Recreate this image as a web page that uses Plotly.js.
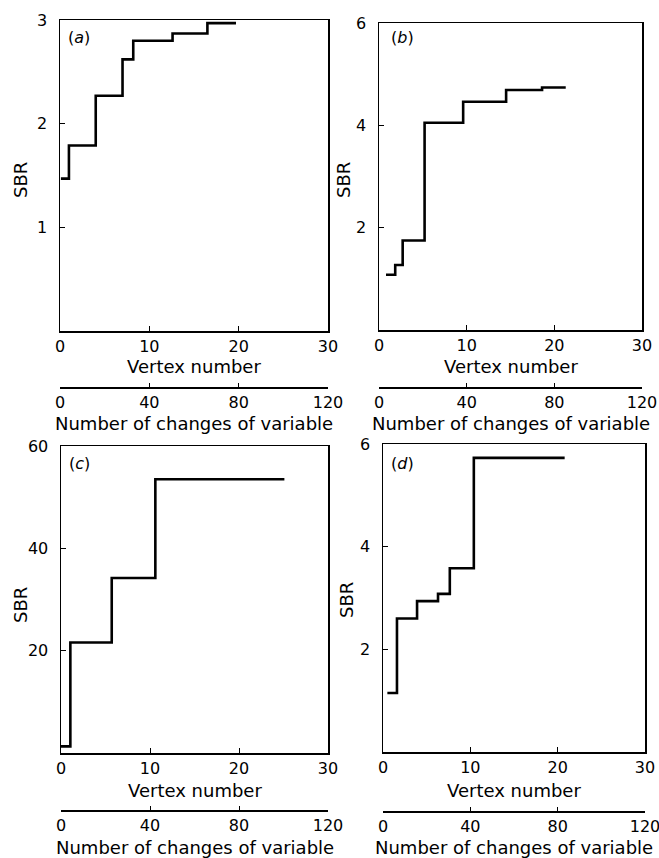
<!DOCTYPE html>
<html>
<head>
<meta charset="utf-8">
<script src="https://cdn.plot.ly/plotly-3.0.1.min.js"></script>
<style>html,body{margin:0;padding:0;background:#fff;}#chart{width:659px;height:858px;}</style>
</head>
<body>
<div id="chart"></div>
<script>
// ---- data ----
const panelLabels = ['a', 'b', 'c', 'd'];

const vertexA = [0.1, 1, 4, 7, 8.2, 12.6, 16.5, 19.7];
const sbrA    = [1.47, 1.79, 2.27, 2.62, 2.80, 2.87, 2.97, 2.97];

const vertexB = [0.8, 1.85, 2.7, 5.2, 9.6, 14.5, 18.6, 21.3];
const sbrB    = [1.08, 1.27, 1.75, 4.05, 4.46, 4.69, 4.74, 4.74];

const vertexC = [0, 1.05, 5.7, 10.6, 25.1];
const sbrC    = [1.3, 21.6, 34.2, 53.5, 53.5];

const vertexD = [0.5, 1.6, 3.9, 6.3, 7.65, 10.4, 20.8];
const sbrD    = [1.15, 2.6, 2.94, 3.08, 3.58, 5.73, 5.73];

const vertexTicks  = [0, 10, 20, 30];
const changesTicks = [0, 40, 80, 120];
const yTicksA = [1, 2, 3];
const yTicksB = [2, 4, 6];
const yTicksC = [20, 40, 60];
const yTicksD = [2, 4, 6];
const yMaxes  = [3, 6, 60, 6];

// ---- layout geometry ----
const W = 659, H = 858;
const FONT = 'DejaVu Sans, Arial, sans-serif';
const px = v => v / W;
const py = v => 1 - v / H;

const boxes = [
  {x0: 60,  x1: 328, y0: 20,  y1: 331, sec: 387, vt: 366, ct: 423, sx: 20,  sy: 180, lx: 66,  ly: 37},
  {x0: 379, x1: 642, y0: 23,  y1: 330, sec: 387, vt: 366, ct: 423, sx: 343, sy: 180, lx: 389, ly: 37},
  {x0: 61,  x1: 328, y0: 446, y1: 753, sec: 810, vt: 790, ct: 847, sx: 20,  sy: 605, lx: 67,  ly: 463},
  {x0: 383, x1: 645, y0: 444, y1: 752, sec: 811, vt: 790, ct: 847, sx: 346, sy: 600, lx: 389, ly: 463}
];

const xs = [vertexA, vertexB, vertexC, vertexD];
const ys = [sbrA, sbrB, sbrC, sbrD];
const yt = [yTicksA, yTicksB, yTicksC, yTicksD];

const data = [];
const layout = {
  width: W, height: H,
  margin: {l: 0, r: 0, t: 0, b: 0},
  paper_bgcolor: '#fff', plot_bgcolor: '#fff',
  showlegend: false,
  font: {family: FONT, size: 16, color: '#000'},
  annotations: []
};

for (let i = 0; i < 4; i++) {
  const n = i + 1;
  const xa = n === 1 ? 'x' : 'x' + n;
  const ya = n === 1 ? 'y' : 'y' + n;
  const b = boxes[i];
  data.push({
    x: xs[i], y: ys[i], xaxis: xa, yaxis: ya,
    type: 'scatter', mode: 'lines',
    line: {shape: 'hv', color: '#000', width: 2.6},
    hoverinfo: 'skip'
  });
  // empty trace to bind the secondary axis
  data.push({x: [], y: [], xaxis: 'x' + (n + 4), yaxis: ya, type: 'scatter', mode: 'lines', hoverinfo: 'skip'});

  layout['xaxis' + (n === 1 ? '' : n)] = {
    domain: [px(b.x0), px(b.x1)], anchor: ya,
    range: [0, 30], tickvals: vertexTicks,
    showline: true, mirror: true, linecolor: '#000', linewidth: 1.5,
    ticks: 'inside', ticklen: 5, tickcolor: '#000',
    showgrid: false, zeroline: false, ticklabeloverflow: 'allow',
    tickfont: {family: FONT, size: 16, color: '#000'}
  };
  layout['yaxis' + (n === 1 ? '' : n)] = {
    domain: [py(b.y1), py(b.y0)], anchor: xa,
    range: [0, yMaxes[i]], tickvals: yt[i],
    showline: true, mirror: true, linecolor: '#000', linewidth: 1.5,
    ticks: 'inside', ticklen: 5, tickcolor: '#000',
    showgrid: false, zeroline: false, ticklabelstandoff: 8,
    tickfont: {family: FONT, size: 16, color: '#000'}
  };
  layout['xaxis' + (n + 4)] = {
    overlaying: xa, anchor: 'free', position: py(b.sec), side: 'bottom',
    domain: [px(b.x0), px(b.x1)],
    range: [0, 120], tickvals: changesTicks,
    showline: true, linecolor: '#000', linewidth: 1.5,
    ticks: 'inside', ticklen: 4, tickcolor: '#000',
    showgrid: false, zeroline: false, ticklabeloverflow: 'allow',
    tickfont: {family: FONT, size: 16, color: '#000'}
  };

  const cx = (b.x0 + b.x1) / 2;
  layout.annotations.push(
    {xref: 'paper', yref: 'paper', x: px(cx), y: py(b.vt), text: 'Vertex number',
     showarrow: false, xanchor: 'center', yanchor: 'middle', font: {family: FONT, size: 18, color: '#000'}},
    {xref: 'paper', yref: 'paper', x: px(cx), y: py(b.ct), text: 'Number of changes of variable',
     showarrow: false, xanchor: 'center', yanchor: 'middle', font: {family: FONT, size: 18, color: '#000'}},
    {xref: 'paper', yref: 'paper', x: px(b.sx), y: py(b.sy), text: 'SBR', textangle: -90,
     showarrow: false, xanchor: 'center', yanchor: 'middle', font: {family: FONT, size: 18, color: '#000'}},
    {xref: 'paper', yref: 'paper', x: px(b.lx), y: py(b.ly), text: '(<i>' + panelLabels[i] + '</i>)',
     showarrow: false, xanchor: 'left', yanchor: 'middle', font: {family: FONT, size: 16, color: '#000'}}
  );
}

Plotly.newPlot('chart', data, layout, {staticPlot: true, displayModeBar: false});
</script>
</body>
</html>
